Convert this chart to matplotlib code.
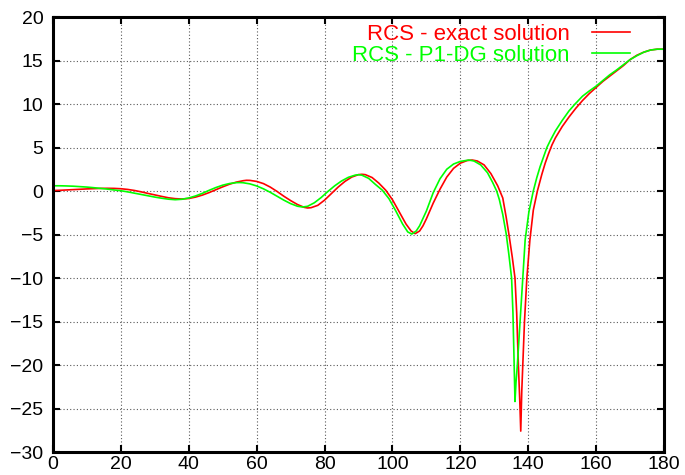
import numpy as np
import matplotlib
matplotlib.use("Agg")
import matplotlib.pyplot as plt

plt.rcParams["font.family"] = ["Liberation Sans", "DejaVu Sans"]

# RCS - exact solution (angle in degrees, RCS in dB)
x_exact = [0, 2, 4, 6, 8, 10, 12, 14, 16, 18, 20, 22, 24, 26, 28, 30, 32, 34,
           36, 38, 40, 42, 44, 46, 48, 50, 52, 54, 56, 57, 58, 60, 62, 64, 66,
           68, 70, 72, 74, 75, 76, 78, 80, 82, 84, 86, 88, 90, 91, 92, 94, 96,
           98, 100, 102, 104, 105.5, 106.7, 108, 109, 110, 112, 114, 116, 118,
           120, 122, 123.5, 125, 127, 129, 131, 132.5, 133.5, 134.4, 135.3,
           136.1, 136.6, 137.1, 137.5, 137.8, 138.1, 138.4, 138.9, 139.6,
           140.5, 141.5, 142.7, 144, 145, 146, 147, 148, 150, 152, 154, 156,
           158, 160, 162, 164, 166, 168, 170, 172, 174, 176, 178, 180]
y_exact = [0.05, 0.08, 0.12, 0.16, 0.2, 0.24, 0.27, 0.3, 0.31, 0.3, 0.26,
           0.18, 0.06, -0.1, -0.28, -0.45, -0.62, -0.78, -0.88, -0.92, -0.86,
           -0.7, -0.47, -0.18, 0.15, 0.48, 0.78, 1.02, 1.18, 1.23, 1.22, 1.1,
           0.85, 0.45, -0.05, -0.6, -1.1, -1.55, -1.88, -1.95, -1.92, -1.65,
           -1.05, -0.3, 0.45, 1.1, 1.6, 1.88, 1.92, 1.88, 1.55, 0.9, 0.1,
           -1.0, -2.4, -3.8, -4.6, -4.9, -4.6, -4.0, -3.2, -1.4, 0.2, 1.6,
           2.6, 3.2, 3.5, 3.56, 3.45, 3.0, 2.0, 0.6, -0.8, -3.0, -5.2, -7.6,
           -10, -14, -20, -24, -27.6, -23, -20, -15, -10, -5.6, -2.2, 0.0,
           1.9, 3.2, 4.3, 5.3, 6.1, 7.4, 8.5, 9.5, 10.4, 11.2, 11.9, 12.6,
           13.2, 13.8, 14.4, 15.1, 15.6, 15.95, 16.2, 16.3, 16.3]

# RCS - P1-DG solution (angle in degrees, RCS in dB)
x_dg = [0, 2, 4, 6, 8, 10, 12, 14, 16, 18, 20, 22, 24, 26, 28, 30, 32, 34, 36,
        38, 40, 42, 44, 46, 48, 50, 52, 54, 55, 56, 58, 60, 62, 64, 66, 68,
        70, 72, 73.5, 75, 77, 79, 81, 83, 85, 87, 89, 90, 91, 93, 95, 97, 99,
        101, 103, 104.5, 105.7, 107, 108, 110, 112, 114, 116, 118, 120, 122.5,
        124, 126, 128, 129.5, 130.7, 131.5, 132.5, 133.5, 134.3, 135.1, 135.5,
        135.8, 136.1, 136.4, 136.8, 137.6, 138.4, 139.1, 140.2, 141.5, 142.5,
        143.5, 144.5, 145.5, 146.5, 148, 150, 152, 153.8, 156, 158, 160, 162,
        164, 166, 168, 170, 172, 174, 176, 178, 180]
y_dg = [0.6, 0.6, 0.58, 0.55, 0.5, 0.45, 0.38, 0.3, 0.22, 0.12, 0.03, -0.1,
        -0.25, -0.4, -0.55, -0.7, -0.83, -0.94, -1.0, -0.95, -0.8, -0.57,
        -0.27, 0.08, 0.4, 0.67, 0.86, 0.96, 0.97, 0.95, 0.82, 0.58, 0.25,
        -0.15, -0.6, -1.05, -1.45, -1.75, -1.84, -1.76, -1.35, -0.75, -0.05,
        0.6, 1.15, 1.57, 1.82, 1.87, 1.82, 1.45, 0.75, 0.1, -0.9, -2.3, -3.8,
        -4.7, -4.95, -4.6, -4.0, -2.3, -0.2, 1.4, 2.5, 3.1, 3.4, 3.56, 3.45,
        3.0, 2.1, 1.0, 0.0, -1.0, -2.7, -4.9, -7.3, -10, -14, -19, -24.2,
        -22, -20, -15, -10, -5.6, -2.4, 0.0, 1.5, 2.8, 3.9, 5.0, 5.8, 6.9,
        8.1, 9.2, 10.0, 10.9, 11.5, 12.05, 12.7, 13.35, 13.9, 14.5, 15.1,
        15.55, 15.95, 16.2, 16.3, 16.3]

x_ticks = np.arange(0, 181, 20)
y_ticks = np.arange(-30, 21, 5)

fig = plt.figure(figsize=(6.85, 4.75), dpi=100)
ax = fig.add_axes([53 / 685, 23 / 475, 611 / 685, 435 / 475])

ax.plot(x_exact, y_exact, color="#ff0000", lw=1.2, label="RCS - exact solution")
ax.plot(x_dg, y_dg, color="#00ff00", lw=1.2, label="RCS - P1-DG solution")

ax.set_xlim(0, 180)
ax.set_ylim(-30, 20)
ax.set_xticks(x_ticks)
ax.set_yticks(y_ticks)
ax.grid(True, color="0.35", linestyle=(0, (1, 2)), linewidth=0.8)
ax.tick_params(direction="in", top=True, right=True, length=5, width=1.5,
               labelsize=14, pad=3)
ax.tick_params(axis="y", pad=7)
for s in ax.spines.values():
    s.set_linewidth(2.2)

# gnuplot-style key: text right-aligned, sample line after it
leg = ax.legend(loc="upper right", frameon=False, markerfirst=False,
                fontsize=16, labelcolor="linecolor", handlelength=1.7,
                handletextpad=1.0, labelspacing=0.0, borderpad=0.0,
                borderaxespad=0.0, bbox_to_anchor=(0.944, 0.985))

fig.savefig("out.png", dpi=100)
